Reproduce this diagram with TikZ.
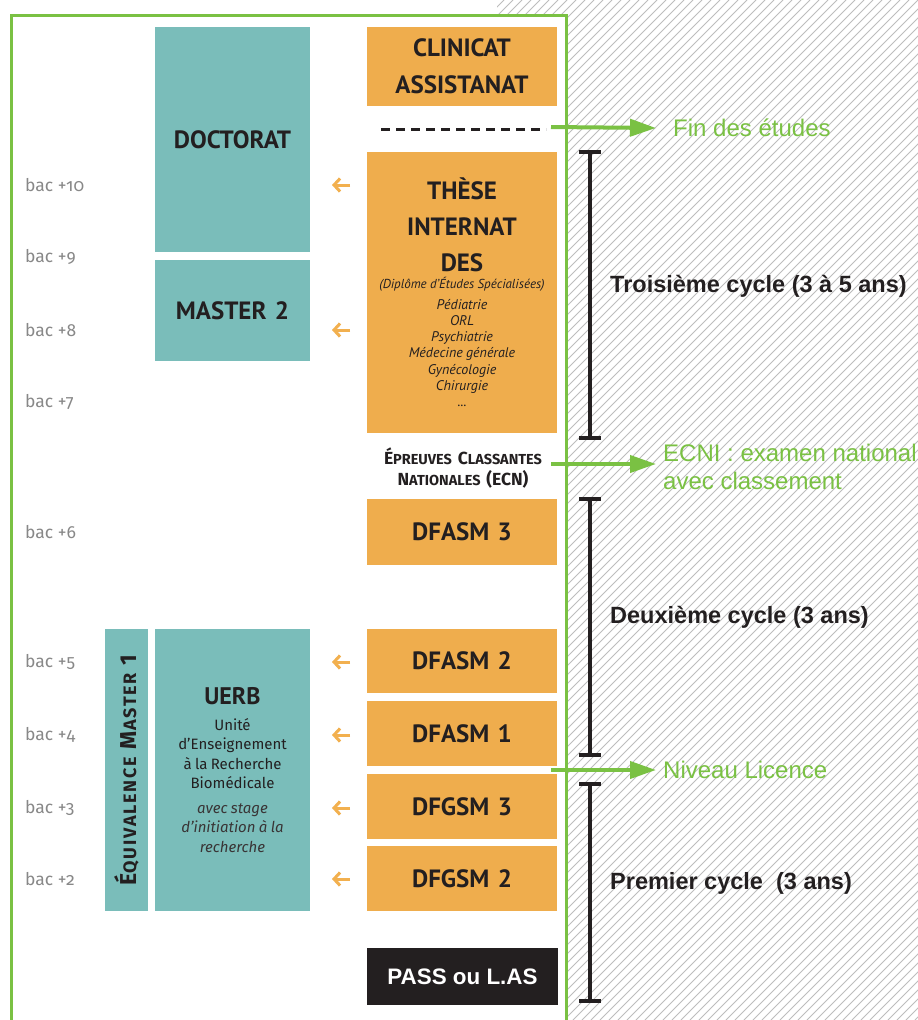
\documentclass[tikz,border=0pt]{standalone}
\usepackage{fontspec}
\usepackage{tikz}
\usetikzlibrary{arrows.meta,positioning}
\setmainfont{PT Sans}
\newfontfamily\helv{Liberation Sans}
\newfontfamily\fira{Fira Sans}
\newfontfamily\firaes[LetterSpace=10]{Fira Sans}
\newfontfamily\bacfont[Numbers=OldStyle]{Fira Sans}
\definecolor{orangebox}{HTML}{EFAD4D}
\definecolor{orangefl}{HTML}{F2B04F}
\definecolor{tealbox}{HTML}{7ABDBA}
\definecolor{vert}{HTML}{7AC143}
\definecolor{noir}{HTML}{231F20}
\definecolor{gristxt}{HTML}{888888}
\definecolor{hachure}{HTML}{BDBDBD}
\newcommand{\fs}[2]{\fontsize{#1}{#2}\selectfont}
\newcommand{\pcap}[2]{#1{\fs{14.5}{21}#2}}
\newcommand{\pcapr}[2]{#1{\fs{18}{16}#2}}

\begin{document}
\begin{tikzpicture}
      [x=1pt,y=-1pt,inner sep=0pt,
       orangebox/.style={rectangle,fill=orangebox,minimum width=190pt,text width=186pt,align=center,text=noir},
       tealbox/.style={rectangle,fill=tealbox,minimum width=155pt,text width=150pt,align=center,text=noir},
       grand/.style={font=\fs{25}{37}\bfseries},
       annee/.style={anchor=west,text=gristxt,font=\bacfont\fs{17.5}{17}},
       fleche/.style={orangefl,line width=3pt,-{Straight Barb[length=6pt,width=13pt,line width=3pt]}},
       vertlabel/.style={anchor=west,text=vert,align=left,font=\helv\fs{24}{28}},
       cycle/.style={anchor=west,text=noir,font=\helv\bfseries\fs{23.5}{26}},
       vertarrow/.style={vert,line width=4pt,-{Triangle[length=26pt,width=17pt]}},
       bracket/.style={noir,line width=4pt,{Bar[width=22pt,line width=4pt]}-{Bar[width=22pt,line width=4pt]}}]
        \useasboundingbox (0,0) rectangle (918,1020);
        \fill[white] (0,0) rectangle (918,1020);
        \begin{scope}
          \clip (497,0) rectangle (918,1020);
          \foreach \x in {-1020,-1011,...,918}
            \draw[hachure,line width=0.8pt] (\x,1020) -- ++(1020,-1020);
        \end{scope}
        \draw[vert,line width=3pt,fill=white] (11,1030) -- (11,15) -- (566,15) -- (566,1030);

        \node (doct) at (232.5,139.5) [tealbox,minimum height=225pt,grand] {DOCTORAT};
        \node (mast) at (232.5,310.5) [tealbox,minimum height=101pt,grand] {MASTER 2};
        \node (uerb) at (232.5,770) [tealbox,minimum height=282pt] {%
          {\fs{24}{28}\bfseries UERB\par}\vspace{6pt}
          {\color{noir}\fira\fs{15}{19.5}Unité\\d’Enseignement\\à la Recherche\\Biomédicale\par}\vspace{5pt}
          {\color{noir!90}\fira\fs{15}{19.5}\itshape avec stage\\d’initiation à la\\recherche\par}};
        \node (equiv) at (126.5,770) [rectangle,fill=tealbox,minimum width=43pt,minimum height=282pt] {};
        \node[rotate=90,text=noir,font=\firaes\fs{23}{21}\bfseries] at (equiv.center)
          {\pcapr{É}{QUIVALENCE} \pcapr{M}{ASTER} 1};

        \node (clin) at (462,66.5) [orangebox,minimum height=79pt,grand] {CLINICAT\\ASSISTANAT};
        \draw[noir,line width=3pt,dash pattern=on 9pt off 6pt] (381,129) -- (546,129);
        \node (these) at (462,292.5) [orangebox,minimum height=281pt] {%
          {\fs{25}{36}\bfseries THÈSE\\INTERNAT\\DES\par}\vspace{3pt}
          {\fs{13}{14}\itshape (Diplôme d’Études Spécialisées)\par}\vspace{4pt}
          {\fs{14}{16.3}\itshape Pédiatrie\\ORL\\Psychiatrie\\Médecine générale\\Gynécologie\\Chirurgie\\...\par}};
        \node (ecn) at (463,468) [text width=200pt,align=center,text=noir,font=\fira\fs{17.5}{21}\bfseries]
          {\pcap{É}{PREUVES} \pcap{C}{LASSANTES}\\\pcap{N}{ATIONALES} (ECN)};
        \node (dfasm3) at (462,532) [orangebox,minimum height=66pt,grand] {DFASM 3};
        \node (dfasm2) at (462,661) [orangebox,minimum height=64pt,grand] {DFASM 2};
        \node (dfasm1) at (462,733.5) [orangebox,minimum height=65pt,grand] {DFASM 1};
        \node (dfgsm3) at (462,806.5) [orangebox,minimum height=65pt,grand] {DFGSM 3};
        \node (dfgsm2) at (462,878.5) [orangebox,minimum height=65pt,grand] {DFGSM 2};
        \node (pass) at (462.5,976.5) [rectangle,fill=noir,minimum width=191pt,minimum height=57pt,
          text=white,font=\helv\bfseries\fs{22.4}{26}] {PASS ou L.AS};

        \foreach \n/\y in {10/185,9/257,8/330,7/402,6/532,5/662,4/735,3/808,2/879}
          \node (bac\n) at (25,\y) [annee] {bac +\n};
        \foreach \y in {185,330,662,735,808,879}
          \draw[fleche] (350,\y) -- (332,\y);

        \node (fin) at (673,128) [vertlabel] {Fin des études};
        \node (ecni) at (663,467) [vertlabel] {ECNI : examen national\\avec classement};
        \node (lic) at (663,770) [vertlabel] {Niveau Licence};
        \coordinate (d1) at (551,127);
        \coordinate (d2) at (551,464);
        \coordinate (d3) at (551,770);
        \draw[vertarrow] (d1) -- ([xshift=-17pt]fin.west);
        \draw[vertarrow] (d2) -- ([xshift=-7pt]d2 -| ecni.west);
        \draw[vertarrow] (d3) -- ([xshift=-7pt]lic.west);

        \node (troi) at (610,286) [cycle] {Troisième cycle (3 à 5 ans)};
        \node (deux) at (610,617) [cycle] {Deuxième cycle (3 ans)};
        \node (prem) at (610,883) [cycle] {Premier cycle\ \ (3 ans)};
        \coordinate (t1) at (590,150);
        \coordinate (t2) at (590,440);
        \coordinate (u1) at (590,497);
        \coordinate (u2) at (590,757);
        \coordinate (p1) at (590,782);
        \coordinate (p2) at (590,1003);
        \draw[bracket] (t1) -- (t2);
        \draw[bracket] (u1) -- (u2);
        \draw[bracket] (p1) -- (p2);
      \end{tikzpicture}
\end{document}
